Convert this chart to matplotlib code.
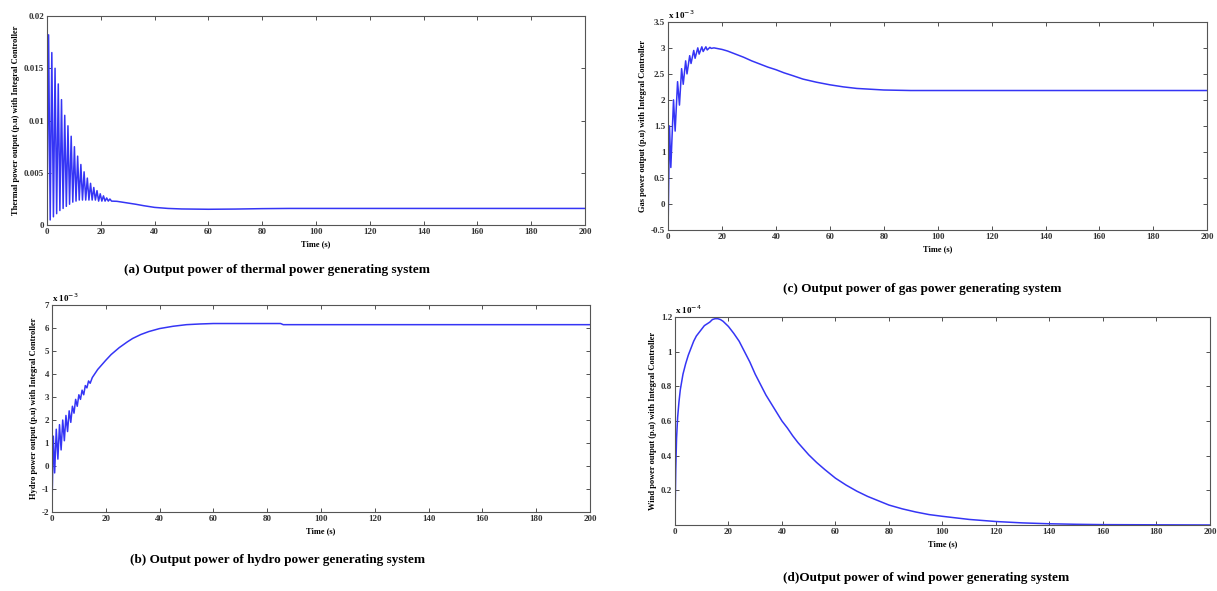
import matplotlib as mpl
mpl.use('Agg')
import matplotlib.pyplot as plt

plt.rcParams['font.family'] = ['Liberation Serif', 'DejaVu Serif']

# (a) thermal, p.u.
thermal_t = [0, 0.6, 1.2, 1.8, 2.4, 3.0, 3.6, 4.2, 4.8, 5.4, 6.0, 6.6, 7.2, 7.8, 8.4, 9.0,
             9.6, 10.2, 10.8, 11.4, 12.0, 12.6, 13.2, 13.8, 14.4, 15.0, 15.6, 16.2, 16.8,
             17.4, 18.0, 18.6, 19.2, 19.8, 20.4, 21.0, 21.6, 22.2, 22.8, 23.4, 24.0,
             26, 28, 30, 33, 36, 40, 45, 50, 60, 70, 80, 90, 100, 150, 200]
thermal_y = [0.0, 0.0182, 0.0005, 0.0165, 0.0008, 0.0150, 0.0011, 0.0135, 0.0014, 0.0120,
             0.0016, 0.0105, 0.0018, 0.0095, 0.0020, 0.0085, 0.0022, 0.0075, 0.0023, 0.0066,
             0.0024, 0.0058, 0.0024, 0.0051, 0.0024, 0.0045, 0.0024, 0.0040, 0.0024, 0.0036,
             0.0024, 0.0033, 0.0023, 0.0030, 0.0023, 0.0028, 0.0023, 0.0026, 0.0023, 0.0025,
             0.0023, 0.00228, 0.0022, 0.00212, 0.002, 0.00186, 0.0017, 0.0016, 0.00155,
             0.00152, 0.00154, 0.00158, 0.0016, 0.0016, 0.0016, 0.0016]

# (b) hydro, x 1e-3 p.u.
hydro_t = [0, 0.5, 1.0, 1.6, 2.2, 2.8, 3.4, 4.0, 4.6, 5.2, 5.8, 6.4, 7.0, 7.6, 8.2, 8.8,
           9.4, 10.0, 10.6, 11.2, 11.8, 12.4, 13.0, 13.6, 14.2, 15, 17, 20, 22, 25, 28,
           30, 33, 36, 40, 45, 50, 55, 60, 85, 86, 100, 200]
hydro_y = [-1.8, 1.3, -0.3, 1.6, 0.3, 1.8, 0.7, 2.0, 1.1, 2.2, 1.5, 2.4, 1.9, 2.6, 2.3, 2.9,
           2.6, 3.1, 2.9, 3.3, 3.1, 3.5, 3.4, 3.7, 3.6, 3.85, 4.2, 4.6, 4.85, 5.15, 5.4,
           5.55, 5.72, 5.85, 5.98, 6.08, 6.15, 6.18, 6.2, 6.2, 6.15, 6.15, 6.15]

# (c) gas, x 1e-3 p.u.
gas_t = [0, 0.5, 1.0, 2.0, 2.6, 3.5, 4.2, 5.0, 5.6, 6.5, 7.0, 8.0, 8.5, 9.5, 10.0, 11.0,
         11.5, 12.5, 13.0, 14.0, 14.5, 15.5, 16.0, 17, 18, 20, 22, 25, 28, 31, 34, 37, 40,
         43, 46, 50, 55, 60, 65, 70, 80, 90, 200]
gas_y = [-0.4, 1.5, 0.7, 2.0, 1.4, 2.35, 1.9, 2.6, 2.3, 2.75, 2.5, 2.85, 2.7, 2.95, 2.8, 3.0,
         2.88, 3.02, 2.93, 3.02, 2.96, 3.01, 2.99, 3.0, 2.99, 2.97, 2.94, 2.88, 2.82, 2.75,
         2.69, 2.63, 2.58, 2.52, 2.47, 2.4, 2.34, 2.29, 2.25, 2.22, 2.19, 2.18, 2.18]

# (d) wind, x 1e-4 p.u.
wind_t = [0, 0.1, 0.3, 0.6, 1, 1.5, 2, 3, 4, 5, 6, 7, 8, 9, 10, 11, 12, 13, 14, 15, 16,
          17, 18, 19, 20, 22, 24, 26, 28, 30, 32, 34, 36, 38, 40, 42, 44, 46, 48, 50, 53,
          56, 60, 64, 68, 72, 76, 80, 85, 90, 95, 100, 110, 120, 130, 140, 150, 160, 180, 200]
wind_y = [0, 0.12, 0.32, 0.5, 0.62, 0.71, 0.78, 0.87, 0.93, 0.98, 1.02, 1.06, 1.09, 1.11,
          1.13, 1.15, 1.16, 1.17, 1.185, 1.19, 1.19, 1.185, 1.175, 1.16, 1.145, 1.105, 1.06,
          1.0, 0.94, 0.87, 0.81, 0.75, 0.7, 0.65, 0.6, 0.56, 0.515, 0.475, 0.44, 0.405,
          0.36, 0.32, 0.27, 0.23, 0.195, 0.165, 0.14, 0.115, 0.093, 0.075, 0.06, 0.05,
          0.032, 0.02, 0.012, 0.007, 0.004, 0.002, 0.001, 0.0]

xticks = [0, 20, 40, 60, 80, 100, 120, 140, 160, 180, 200]
col = '#3535f5'

fig = plt.figure(figsize=(12.17, 5.91), dpi=100)


def panel(rect, t, y, ylim, yticks, yticklabels, ylabel, expo, caption, cap_xy):
    ax = fig.add_axes(rect)
    ax.plot(t, y, color=col, lw=1.1)
    ax.set_xlim(0, 200)
    ax.set_ylim(*ylim)
    ax.set_xticks(xticks)
    ax.set_yticks(yticks)
    ax.set_yticklabels(yticklabels)
    ax.tick_params(direction='in', length=3, width=0.6, labelsize=6.5, pad=2,
                   top=True, right=True, colors='#333333')
    for lab in ax.get_xticklabels() + ax.get_yticklabels():
        lab.set_fontweight('bold')
    for s in ax.spines.values():
        s.set_linewidth(0.8)
        s.set_color('#555555')
    ax.set_xlabel('Time (s)', fontsize=6, fontweight='bold', labelpad=3)
    ax.set_ylabel(ylabel, fontsize=6, fontweight='bold', labelpad=3)
    if expo:
        ax.text(0.0, 1.005, expo, transform=ax.transAxes, fontsize=6.5,
                fontweight='bold', ha='left', va='bottom')
    fig.text(cap_xy[0], cap_xy[1], caption, fontsize=9.5, fontweight='bold',
             ha='center', va='center')
    return ax


panel([0.0386, 0.619, 0.442, 0.354], thermal_t, thermal_y, (0, 0.02),
      [0, 0.005, 0.01, 0.015, 0.02], ['0', '0.005', '0.01', '0.015', '0.02'],
      'Thermal power output (p.u) with Integral Controller', None,
      '(a) Output power of thermal power generating system', (0.228, 0.543))

panel([0.0427, 0.1337, 0.442, 0.350], hydro_t, hydro_y, (-2, 7),
      list(range(-2, 8)), [str(v) for v in range(-2, 8)],
      'Hydro power output (p.u) with Integral Controller', r'x 10$^{-3}$',
      '(b) Output power of hydro power generating system', (0.228, 0.0525))

panel([0.549, 0.611, 0.443, 0.352], gas_t, gas_y, (-0.5, 3.5),
      [-0.5, 0, 0.5, 1, 1.5, 2, 2.5, 3, 3.5],
      ['-0.5', '0', '0.5', '1', '1.5', '2', '2.5', '3', '3.5'],
      'Gas power output (p.u) with Integral Controller', r'x 10$^{-3}$',
      '(c) Output power of gas power generating system', (0.758, 0.511))

panel([0.5546, 0.1117, 0.4396, 0.352], wind_t, wind_y, (0, 1.2),
      [0.2, 0.4, 0.6, 0.8, 1.0, 1.2], ['0.2', '0.4', '0.6', '0.8', '1', '1.2'],
      'Wind power output (p.u) with Integral Controller', r'x 10$^{-4}$',
      '(d)Output power of wind power generating system', (0.761, 0.022))

fig.savefig('out.png', dpi=100)
